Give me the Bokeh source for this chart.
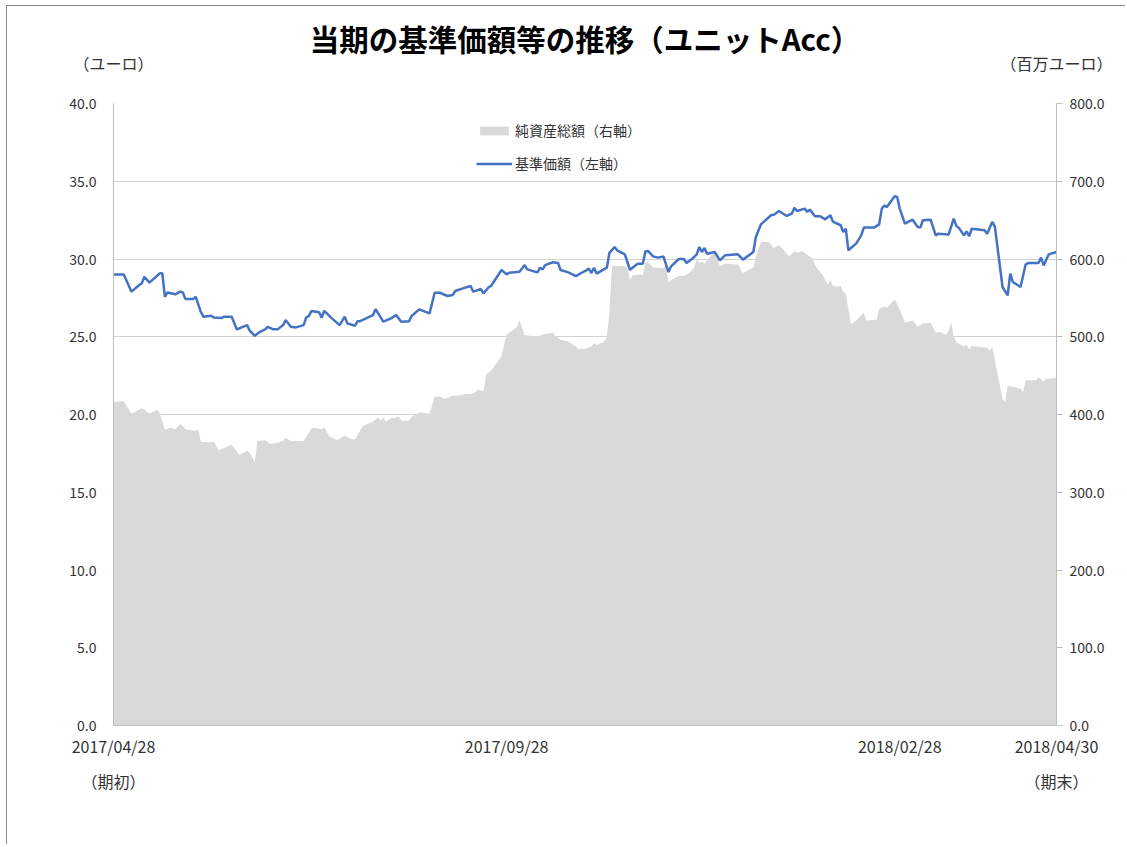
import pandas as pd
from datetime import datetime
from bokeh.plotting import figure
from bokeh.models import (Range1d, LinearAxis, DatetimeAxis, FixedTicker, PrintfTickFormatter,
                          DatetimeTickFormatter, Legend, LegendItem, ColumnDataSource)
from bokeh.embed import file_html
from bokeh.resources import INLINE

FONT = "Noto Sans CJK JP"
START = datetime(2017, 4, 28)
END = datetime(2018, 4, 30)

TITLE = "当期の基準価額等の推移（ユニットAcc）"
LEFT_UNIT = "（ユーロ）"
RIGHT_UNIT = "（百万ユーロ）"
NAV_NAME = "基準価額（左軸）"
ASSET_NAME = "純資産総額（右軸）"
START_NOTE = "（期初）"
END_NOTE = "（期末）"
X_TICK_DATES = ["2017/04/28", "2017/09/28", "2018/02/28", "2018/04/30"]
LEFT_TICKS = [0, 5, 10, 15, 20, 25, 30, 35, 40]
RIGHT_TICKS = [0, 100, 200, 300, 400, 500, 600, 700, 800]

# 基準価額 (euro) : days since 2017/04/28
nav_days = [0, 4, 7, 10, 11, 12, 14, 18, 19, 20, 21, 24, 26, 27, 28, 31, 32, 34, 35, 38,
            39, 42, 43, 46, 48, 52, 53, 55, 57, 59, 60, 62, 64, 66, 67, 69, 71, 74, 75, 76,
            77, 80, 81, 82, 85, 88, 90, 91, 94, 95, 96, 101, 102, 103, 105, 108, 110, 112, 115, 116,
            119, 123, 125, 127, 130, 132, 133, 136, 139, 140, 143, 144, 146, 147, 151, 153, 154, 158, 160, 161,
            165, 166, 167, 168, 171, 173, 174, 177, 180, 182, 184, 185, 186, 187, 188, 192, 193, 195, 196, 199,
            201, 204, 206, 207, 208, 210, 212, 214, 216, 217, 220, 222, 223, 225, 227, 228, 229, 230, 231, 234,
            236, 238, 243, 245, 249, 250, 252, 256, 257, 259, 262, 264, 265, 266, 269, 270, 271, 273, 275, 277,
            279, 280, 283, 284, 285, 286, 289, 291, 292, 296, 298, 299, 300, 301, 304, 305, 306, 308, 311, 313,
            314, 315, 318, 320, 321, 325, 327, 328, 329, 331, 332, 333, 334, 339, 340, 342, 343, 346, 348, 349,
            350, 353, 355, 356, 360, 361, 362, 364, 367]
nav_vals = [29.0, 29.0, 27.9, 28.33, 28.43, 28.86, 28.48, 29.08, 29.08, 27.57, 27.85, 27.73, 27.9, 27.85, 27.42, 27.42, 27.57, 26.6, 26.29, 26.35,
            26.24, 26.2, 26.29, 26.29, 25.47, 25.75, 25.39, 25.06, 25.32, 25.47, 25.64, 25.49, 25.49, 25.75, 26.07, 25.64, 25.6, 25.75, 26.24, 26.33,
            26.65, 26.57, 26.22, 26.67, 26.18, 25.75, 26.29, 25.86, 25.71, 26.0, 26.0, 26.39, 26.78, 26.5, 25.97, 26.18, 26.39, 25.97, 26.0, 26.33,
            26.76, 26.5, 27.83, 27.83, 27.62, 27.68, 27.94, 28.11, 28.26, 27.9, 28.07, 27.79, 28.18, 28.28, 29.29, 29.01, 29.12, 29.18, 29.61, 29.33,
            29.14, 29.44, 29.33, 29.61, 29.79, 29.75, 29.29, 29.14, 28.9, 29.1, 29.27, 29.38, 29.1, 29.44, 29.06, 29.44, 30.39, 30.77, 30.56, 30.3,
            29.31, 29.7, 29.7, 30.49, 30.52, 30.17, 30.09, 30.17, 29.16, 29.53, 30.0, 30.0, 29.74, 29.98, 30.3, 30.77, 30.45, 30.71, 30.34, 30.45,
            29.91, 30.24, 30.3, 29.96, 30.45, 31.42, 32.23, 32.83, 32.85, 33.09, 32.77, 32.92, 33.3, 33.09, 33.24, 33.03, 33.18, 32.75, 32.75, 32.55,
            32.81, 32.4, 32.17, 31.74, 31.95, 30.56, 30.99, 31.52, 32.02, 32.02, 32.23, 33.24, 33.43, 33.35, 34.03, 33.99, 33.24, 32.27, 32.53, 32.06,
            32.02, 32.49, 32.53, 31.52, 31.63, 31.57, 32.6, 32.13, 32.0, 31.52, 31.78, 31.46, 31.95, 31.85, 31.63, 32.38, 32.1, 28.2, 27.66, 29.06,
            28.52, 28.2, 29.66, 29.74, 29.74, 30.09, 29.59, 30.3, 30.45]

# 純資産総額 (million euro) : days since 2017/04/28
asset_days = [0, 4, 7, 11, 12, 14, 17, 18, 20, 22, 24, 26, 28, 31, 33, 34, 37, 39, 41, 46,
              49, 52, 53, 55, 56, 59, 61, 64, 66, 67, 69, 74, 77, 78, 81, 82, 84, 87, 90, 92,
              94, 97, 99, 101, 103, 104, 105, 106, 108, 111, 112, 115, 116, 119, 123, 125, 127, 129, 132, 136,
              137, 138, 140, 142, 144, 145, 147, 150, 151, 153, 155, 157, 158, 160, 163, 165, 167, 171, 172, 174,
              177, 180, 181, 184, 186, 187, 188, 191, 192, 193, 194, 195, 199, 200, 201, 202, 206, 207, 208, 210,
              214, 215, 216, 217, 220, 222, 224, 226, 227, 228, 229, 230, 232, 234, 236, 238, 243, 245, 249, 250,
              252, 255, 257, 259, 261, 263, 265, 266, 268, 271, 272, 273, 276, 278, 279, 280, 283, 284, 285, 287,
              289, 292, 293, 297, 298, 300, 301, 304, 305, 307, 308, 311, 313, 315, 318, 320, 322, 324, 325, 326,
              327, 328, 331, 332, 333, 334, 340, 341, 342, 343, 346, 347, 348, 351, 353, 354, 355, 359, 360, 362,
              363, 367]
asset_vals = [416, 417, 401, 408, 406, 401, 406, 402, 380, 383, 381, 388, 381, 379, 380, 365, 364, 365, 354, 361,
              348, 353, 351, 339, 366, 367, 362, 364, 366, 370, 366, 366, 382, 383, 381, 384, 372, 367, 373, 369,
              368, 385, 388, 391, 396, 392, 396, 391, 395, 397, 392, 392, 397, 403, 401, 423, 423, 420, 424, 425,
              427, 426, 427, 432, 430, 451, 457, 470, 476, 503, 507, 513, 521, 502, 501, 500, 503, 505, 501, 496,
              494, 487, 484, 485, 487, 492, 489, 494, 500, 530, 592, 591, 591, 588, 573, 579, 580, 595, 596, 589,
              588, 591, 569, 573, 578, 578, 582, 589, 600, 595, 597, 594, 603, 609, 591, 594, 593, 582, 589, 603,
              622, 622, 614, 618, 611, 603, 610, 608, 610, 603, 601, 592, 579, 567, 573, 565, 565, 558, 555, 516,
              521, 531, 521, 522, 536, 539, 537, 548, 542, 527, 518, 521, 513, 517, 518, 505, 506, 502, 508, 519,
              500, 493, 487, 490, 484, 488, 486, 482, 487, 470, 420, 416, 437, 435, 433, 429, 444, 444, 448, 442,
              446, 447]


def ms(d):
    return (d - datetime(1970, 1, 1)).total_seconds() * 1000.0


def tick_date(s):
    return datetime.strptime(s, "%Y/%m/%d")


nav_src = ColumnDataSource(dict(date=[pd.Timestamp(START) + pd.Timedelta(days=d) for d in nav_days],
                                val=nav_vals))
asset_src = ColumnDataSource(dict(date=[pd.Timestamp(START) + pd.Timedelta(days=d) for d in asset_days],
                                  val=asset_vals))

p = figure(width=1119, height=839, x_axis_type="datetime",
           x_range=Range1d(ms(START), ms(END)), y_range=Range1d(0, 40),
           output_backend="svg", toolbar_location=None,
           min_border_left=106, min_border_right=70, min_border_top=97, min_border_bottom=120)
p.extra_y_ranges = {"right": Range1d(0, 800)}
p.outline_line_color = None
p.background_fill_color = "white"
p.border_fill_color = "white"
p.styles = {"margin-left": "6px", "margin-top": "5px",
            "border-left": "1px solid #8c8c8c", "border-top": "1px solid #8c8c8c"}

axis_col = "#bfbfbf"
text_col = "#333333"

bx = p.below[0]   # default date axis
ly = p.left[0]    # default value axis (euro)

# title
p.title.text = TITLE
p.title.align = "center"
p.title.offset = -50
p.title.standoff = -22
p.title.text_font = FONT
p.title.text_font_size = "29.5px"
p.title.text_font_style = "bold"
p.title.text_color = "black"


def plain_axis(ax, size, standoff):
    ax.major_tick_out = 0
    ax.major_tick_in = 0
    ax.minor_tick_out = 0
    ax.minor_tick_in = 0
    ax.major_label_standoff = standoff
    ax.major_label_text_font = FONT
    ax.major_label_text_font_size = size
    ax.major_label_text_color = text_col


# left axis
ly.ticker = FixedTicker(ticks=LEFT_TICKS)
ly.formatter = PrintfTickFormatter(format="%.1f")
plain_axis(ly, "14px", 17)
ly.axis_line_color = axis_col

# right axis
ry = LinearAxis(y_range_name="right", ticker=FixedTicker(ticks=RIGHT_TICKS),
                formatter=PrintfTickFormatter(format="%.1f"))
plain_axis(ry, "14px", 7)
ry.major_tick_out = 6
ry.major_tick_line_color = axis_col
ry.axis_line_color = axis_col
p.add_layout(ry, "right")

# bottom axis with dates
fmt = "%Y/%m/%d"
bx.ticker = FixedTicker(ticks=[ms(tick_date(s)) for s in X_TICK_DATES])
bx.formatter = DatetimeTickFormatter(milliseconds=fmt, seconds=fmt, minsec=fmt, minutes=fmt,
                                     hourmin=fmt, hours=fmt, days=fmt, months=fmt, years=fmt)
plain_axis(bx, "16px", 8)
bx.axis_line_color = axis_col

# unit captions row above the plot (left: euro, right: million euro)
ux = DatetimeAxis(ticker=FixedTicker(ticks=[ms(START), ms(END)]),
                  major_label_overrides={ms(START): LEFT_UNIT, ms(END): RIGHT_UNIT})
plain_axis(ux, "16px", 29)
ux.axis_line_color = None
p.add_layout(ux, "above")

# second bottom row: period start / end notes
nx = DatetimeAxis(ticker=FixedTicker(ticks=[ms(START), ms(END)]),
                  major_label_overrides={ms(START): START_NOTE, ms(END): END_NOTE})
plain_axis(nx, "16px", 8)
nx.axis_line_color = None
p.add_layout(nx, "below")

p.xgrid.visible = False
p.ygrid.ticker = FixedTicker(ticks=LEFT_TICKS)
p.ygrid.grid_line_color = "#a6a6a6"
p.ygrid.grid_line_dash = "1 1"
p.ygrid.grid_line_width = 1

area = p.varea(x="date", y1=0, y2="val", source=asset_src, fill_color="#d9d9d9",
               y_range_name="right")
line = p.line(x="date", y="val", source=nav_src, line_color="#4472C4", line_width=2.5)

legend = Legend(items=[LegendItem(label=ASSET_NAME, renderers=[area]),
                       LegendItem(label=NAV_NAME, renderers=[line])],
                location=(363, 552), orientation="vertical",
                glyph_width=36, glyph_height=11, label_height=20, spacing=13,
                label_standoff=3, padding=0, margin=0,
                label_text_font=FONT, label_text_font_size="14px", label_text_color=text_col,
                border_line_color=None, background_fill_alpha=0)
p.add_layout(legend)

open("out.html", "w").write(file_html(p, INLINE))
